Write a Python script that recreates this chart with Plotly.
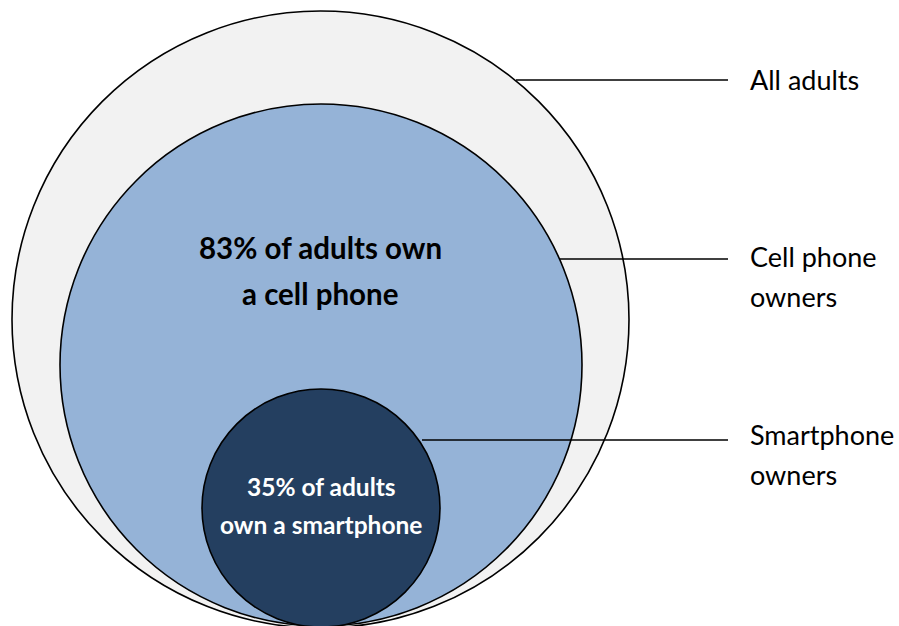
import plotly.graph_objects as go

# ---- data ----
groups = ["All adults", "Cell phone owners", "Smartphone owners"]
share_pct = [100, 83, 35]
side_labels = [["All adults"], ["Cell phone", "owners"], ["Smartphone", "owners"]]
inside_labels = {
    "Cell phone owners": ["83% of adults own", "a cell phone"],
    "Smartphone owners": ["35% of adults", "own a smartphone"],
}

# ---- geometry / style (pixel units on hidden axes) ----
W, H = 899, 626
circles = [  # cx, cy, r
    (320.5, 319.5, 308.5),
    (321.0, 365.0, 261.0),
    (321.0, 508.0, 119.0),
]
fills = ["#f2f2f2", "#95b3d7", "#243f60"]
leader_y = [80, 259, 440]
leader_x0 = [516, 560, 422]
leader_x1 = 728
label_x = 748
label_y = [[79], [256, 296], [434, 474]]

FONT = "Lato"

fig = go.Figure()
fig.add_trace(go.Scatter(x=[c[0] for c in circles], y=[c[1] for c in circles],
                         mode="markers", marker=dict(opacity=0), hoverinfo="skip",
                         showlegend=False))

shapes = []
for (cx, cy, r), fc in zip(circles, fills):
    shapes.append(dict(type="circle", xref="x", yref="y",
                       x0=cx - r, x1=cx + r, y0=cy - r, y1=cy + r,
                       fillcolor=fc, line=dict(color="black", width=1.6), layer="below"))
for y, x0 in zip(leader_y, leader_x0):
    shapes.append(dict(type="line", xref="x", yref="y", x0=x0, x1=leader_x1, y0=y, y1=y,
                       line=dict(color="black", width=1.6)))

annotations = []
for lines, ys in zip(side_labels, label_y):
    for t, y in zip(lines, ys):
        annotations.append(dict(x=label_x, y=y, xref="x", yref="y", text=t, showarrow=False,
                                xanchor="left", yanchor="middle",
                                font=dict(family=FONT, size=27, color="black")))

# inside labels
mid = inside_labels["Cell phone owners"]
for i, t in enumerate(mid):
    annotations.append(dict(x=320, y=247 + i * 46, xref="x", yref="y", text="<b>%s</b>" % t,
                            showarrow=False, xanchor="center", yanchor="middle",
                            font=dict(family=FONT, size=29.5, color="black")))
inn = inside_labels["Smartphone owners"]
for i, t in enumerate(inn):
    annotations.append(dict(x=321, y=486 + i * 38, xref="x", yref="y", text="<b>%s</b>" % t,
                            showarrow=False, xanchor="center", yanchor="middle",
                            font=dict(family=FONT, size=24.5, color="white")))

fig.update_layout(
    width=W, height=H, margin=dict(l=0, r=0, t=0, b=0),
    paper_bgcolor="white", plot_bgcolor="white",
    xaxis=dict(range=[0, W], visible=False, fixedrange=True),
    yaxis=dict(range=[H, 0], visible=False, fixedrange=True),
    shapes=shapes, annotations=annotations, showlegend=False,
)
fig.write_html("out.html", config={"displayModeBar": False},
               post_script="document.body.style.margin='0';document.body.style.overflow='hidden';")
